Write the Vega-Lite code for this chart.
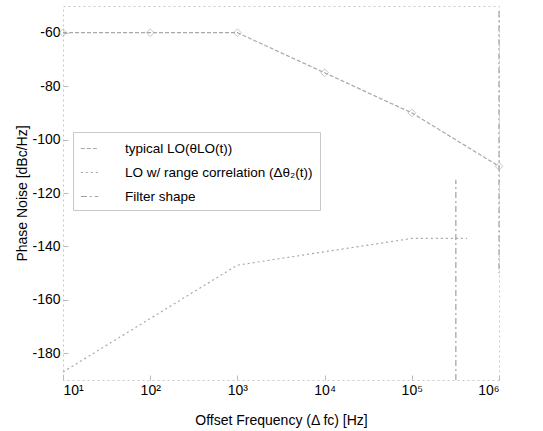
{
  "$schema": "https://vega.github.io/schema/vega-lite/v6.json",
  "width": 436,
  "height": 374,
  "autosize": {"type": "none"},
  "padding": {"left": 63, "top": 6, "right": 44, "bottom": 51},
  "background": "white",
  "config": {
    "font": "Liberation Sans",
    "view": {"stroke": "#c8c8c8", "strokeDash": [2, 3], "strokeWidth": 1},
    "axis": {"grid": false, "domain": false, "labelColor": "black", "titleColor": "black", "labelFontSize": 14, "titleFontSize": 14, "titleFontWeight": "normal", "tickColor": "#bbbbbb", "tickSize": -5}
  },
  "datasets": {
    "lines": [
      {"f": 10, "pn": -60, "series": "typical LO(θLO(t))", "seg": "a"},
      {"f": 100, "pn": -60, "series": "typical LO(θLO(t))", "seg": "a"},
      {"f": 1000, "pn": -60, "series": "typical LO(θLO(t))", "seg": "a"},
      {"f": 10000, "pn": -75, "series": "typical LO(θLO(t))", "seg": "a"},
      {"f": 100000, "pn": -90, "series": "typical LO(θLO(t))", "seg": "a"},
      {"f": 1000000, "pn": -110, "series": "typical LO(θLO(t))", "seg": "a"},
      {"f": 10, "pn": -187, "series": "LO w/ range correlation (Δθ₂(t))", "seg": "b"},
      {"f": 1000, "pn": -147, "series": "LO w/ range correlation (Δθ₂(t))", "seg": "b"},
      {"f": 10000, "pn": -142, "series": "LO w/ range correlation (Δθ₂(t))", "seg": "b"},
      {"f": 100000, "pn": -137, "series": "LO w/ range correlation (Δθ₂(t))", "seg": "b"},
      {"f": 430000, "pn": -137, "series": "LO w/ range correlation (Δθ₂(t))", "seg": "b"},
      {"f": 320000, "pn": -190, "series": "Filter shape", "seg": "c"},
      {"f": 320000, "pn": -115, "series": "Filter shape", "seg": "c"},
      {"f": 1000000, "pn": -52, "series": "Filter shape", "seg": "d"},
      {"f": 1000000, "pn": -150, "series": "Filter shape", "seg": "d"}
    ],
    "markers": [
      {"f": 10, "pn": -60, "series": "typical LO(θLO(t))"},
      {"f": 100, "pn": -60, "series": "typical LO(θLO(t))"},
      {"f": 1000, "pn": -60, "series": "typical LO(θLO(t))"},
      {"f": 10000, "pn": -75, "series": "typical LO(θLO(t))"},
      {"f": 100000, "pn": -90, "series": "typical LO(θLO(t))"},
      {"f": 1000000, "pn": -110, "series": "typical LO(θLO(t))"}
    ]
  },
  "layer": [
    {
      "data": {"name": "lines"},
      "mark": {"type": "line", "strokeWidth": 1.2, "clip": false},
      "encoding": {
        "x": {"field": "f", "type": "quantitative", "scale": {"type": "log", "domain": [10, 1000000], "nice": false},
              "axis": {"values": [10, 100, 1000, 10000, 100000, 1000000], "labelExpr": "datum.value == 10 ? '10¹' : datum.value == 100 ? '10²' : datum.value == 1000 ? '10³' : datum.value == 10000 ? '10⁴' : datum.value == 100000 ? '10⁵' : '10⁶'", "title": "Offset Frequency (Δ fc) [Hz]", "labelPadding": 8, "titlePadding": 16}},
        "y": {"field": "pn", "type": "quantitative", "scale": {"domain": [-190, -50], "nice": false},
              "axis": {"values": [-60, -80, -100, -120, -140, -160, -180], "labelExpr": "'-' + abs(datum.value)", "title": "Phase Noise [dBc/Hz]", "labelPadding": 8, "titlePadding": 2}},
        "detail": {"field": "seg"},
        "color": {"field": "series", "type": "nominal",
                  "scale": {"domain": ["typical LO(θLO(t))", "LO w/ range correlation (Δθ₂(t))", "Filter shape"], "range": ["#a8a8a8", "#a8a8a8", "#a0a0a0"]},
                  "legend": {"orient": "none", "legendX": 10, "legendY": 126, "title": null, "labelFontSize": 13.5, "labelLimit": 400, "labelColor": "black", "symbolType": "stroke", "symbolSize": 300, "symbolStrokeWidth": 1, "labelOffset": 26, "rowPadding": 8, "padding": 7, "strokeColor": "#c8c8c8", "symbolDash": [2, 3], "fillColor": "white"}},
        "strokeDash": {"field": "series", "type": "nominal",
                       "scale": {"domain": ["typical LO(θLO(t))", "LO w/ range correlation (Δθ₂(t))", "Filter shape"], "range": [[4, 2], [2, 3], [6, 3, 2, 3]]},
                       "legend": null}
      }
    },
    {
      "data": {"name": "markers"},
      "mark": {"type": "point", "shape": "diamond", "filled": false, "size": 60, "strokeWidth": 1, "color": "#b0b0b0"},
      "encoding": {
        "x": {"field": "f", "type": "quantitative"},
        "y": {"field": "pn", "type": "quantitative"}
      }
    }
  ]
}
